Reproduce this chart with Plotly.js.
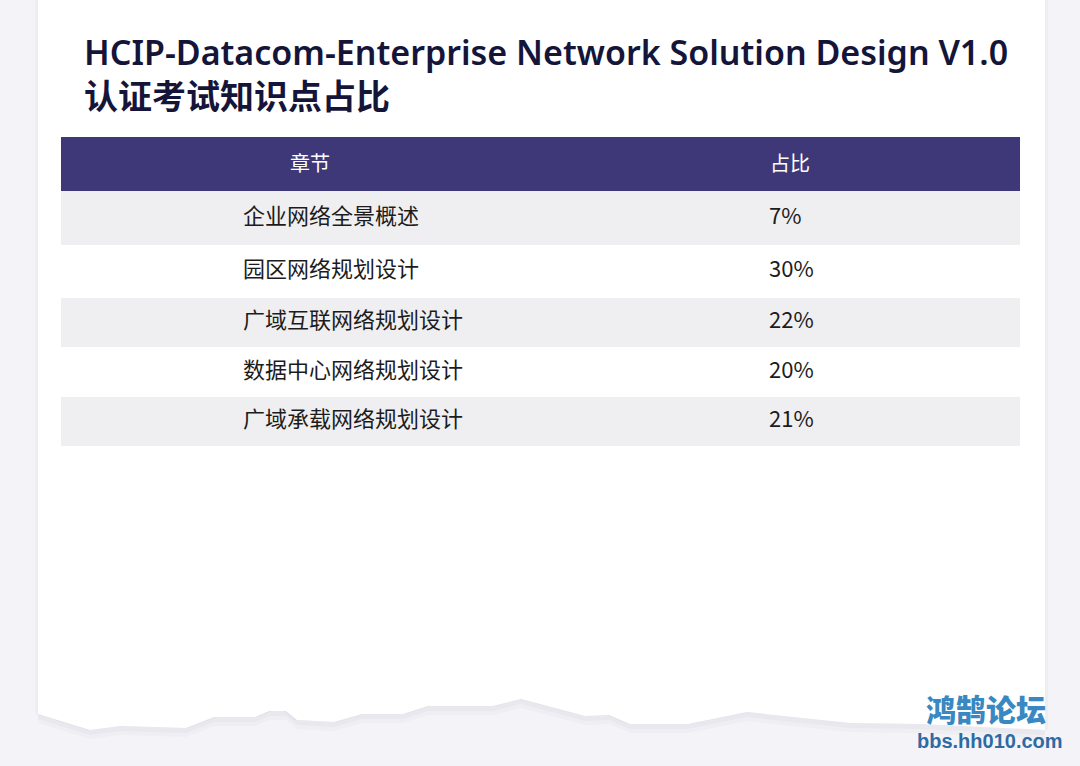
<!DOCTYPE html>
<html>
<head>
<meta charset="utf-8">
<script src="https://cdn.plot.ly/plotly-3.0.1.min.js"></script>
<style>html,body{margin:0;padding:0;background:#f4f3f7;}#chart{width:1080px;height:766px;}</style>
</head>
<body>
<div id="chart"></div>
<script>
// ---- data ----
const headers = ['章节', '占比'];
const chapters = ['企业网络全景概述', '园区网络规划设计', '广域互联网络规划设计', '数据中心网络规划设计', '广域承载网络规划设计'];
const shares = [7, 30, 22, 20, 21];
const titleLine1 = 'HCIP-Datacom-Enterprise Network Solution Design V1.0';
const titleLine2 = '认证考试知识点占比';

// ---- layout constants (pixel geometry of the table) ----
const W = 1080, H = 766;
const tableLeft = 61, tableRight = 1020;
const rowEdges = [137, 191, 245, 298, 347, 397, 446];
const headerFill = '#3e3878', grayFill = '#efeff1', whiteFill = '#ffffff';
const cjk = '"Noto Sans CJK SC", "Noto Sans", sans-serif';

const centers = [], heights = [], fills = [];
for (let i = 0; i < rowEdges.length - 1; i++) {
  centers.push((rowEdges[i] + rowEdges[i + 1]) / 2);
  heights.push(rowEdges[i + 1] - rowEdges[i]);
  fills.push(i === 0 ? headerFill : (i % 2 === 1 ? grayFill : whiteFill));
}
const rowCenters = centers.slice(1);

const traces = [
  {
    type: 'bar', orientation: 'h',
    y: centers, x: centers.map(() => tableRight - tableLeft), base: tableLeft,
    width: heights,
    marker: { color: fills, line: { width: 0 } },
    hoverinfo: 'skip', showlegend: false
  },
  {
    type: 'scatter', mode: 'text',
    x: [310, 790], y: [centers[0] + 2, centers[0] + 2],
    text: headers, textposition: 'middle center',
    textfont: { family: cjk, size: 20, color: '#ffffff' },
    hoverinfo: 'skip', showlegend: false
  },
  {
    type: 'scatter', mode: 'text',
    x: chapters.map(() => 243), y: rowCenters,
    text: chapters, textposition: 'middle right',
    textfont: { family: cjk, size: 22, color: '#1c1c1c' },
    hoverinfo: 'skip', showlegend: false
  },
  {
    type: 'scatter', mode: 'text',
    x: shares.map(() => 769), y: rowCenters,
    text: shares.map(v => v + '%'), textposition: 'middle right',
    textfont: { family: cjk, size: 22, color: '#1c1c1c' },
    hoverinfo: 'skip', showlegend: false
  }
];

// torn paper card
const torn = [[1045,730],[919,724],[850,723],[802,718],[747,712],[688,724],[630,724],[609,715],[585,716],[540,704],[521,699],[493,706],[428,706],[403,714],[362,714],[334,722],[297,720],[286,711],[269,711],[255,717],[214,717],[186,728],[121,726],[90,730],[38,714]];
function cardPath(dx, dy) {
  let p = 'M ' + (38 + dx) + ' ' + (-10) + ' L ' + (1045 + dx) + ' -10';
  torn.forEach(pt => { p += ' L ' + (pt[0] + dx) + ' ' + (pt[1] + dy); });
  return p + ' Z';
}
const shapes = [
  { type: 'path', xref: 'x', yref: 'y', path: cardPath(0, 9), fillcolor: 'rgba(90,90,120,0.03)', line: { width: 0 }, layer: 'below' },
  { type: 'path', xref: 'x', yref: 'y', path: cardPath(0, 5), fillcolor: 'rgba(90,90,120,0.04)', line: { width: 0 }, layer: 'below' },
  { type: 'path', xref: 'x', yref: 'y', path: cardPath(-3, 0), fillcolor: 'rgba(90,90,120,0.04)', line: { width: 0 }, layer: 'below' },
  { type: 'path', xref: 'x', yref: 'y', path: cardPath(3, 0), fillcolor: 'rgba(90,90,120,0.04)', line: { width: 0 }, layer: 'below' },
  { type: 'path', xref: 'x', yref: 'y', path: cardPath(0, 0), fillcolor: '#ffffff', line: { width: 0 }, layer: 'below' }
];

const layout = {
  width: W, height: H,
  margin: { l: 0, r: 0, t: 0, b: 0 },
  paper_bgcolor: '#f4f3f7', plot_bgcolor: 'rgba(0,0,0,0)',
  showlegend: false,
  bargap: 0,
  title: {
    text: titleLine1 + '<br>' + titleLine2,
    x: 84 / W, xanchor: 'left', xref: 'container',
    y: 1 - 65 / H, yanchor: 'top', yref: 'container',
    font: { family: '"Noto Sans", "Noto Sans CJK SC", sans-serif', size: 34, color: '#15153a', weight: 600 }
  },
  xaxis: { range: [0, W], domain: [0, 1], visible: false, fixedrange: true },
  yaxis: { range: [H, 0], domain: [0, 1], visible: false, fixedrange: true },
  shapes: shapes,
  annotations: [
    { text: '鸿鹄论坛', xref: 'x', yref: 'y', x: 986, y: 708, showarrow: false,
      font: { family: cjk, size: 30, color: '#3a88c2', weight: 900 } },
    { text: 'bbs.hh010.com', xref: 'x', yref: 'y', x: 990, y: 741, showarrow: false,
      font: { family: '"Liberation Sans", Arial, sans-serif', size: 20, color: '#2f6aa3', weight: 700 } }
  ]
};

Plotly.newPlot('chart', traces, layout, { displayModeBar: false, staticPlot: true });
</script>
</body>
</html>
